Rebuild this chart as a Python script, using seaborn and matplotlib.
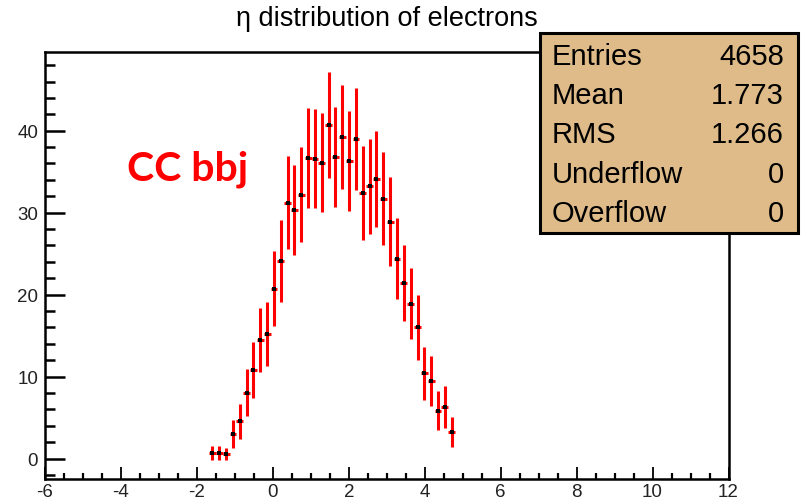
import matplotlib
matplotlib.use("Agg")
import matplotlib.pyplot as plt
import seaborn as sns
import pandas as pd
from matplotlib.patches import Rectangle
from matplotlib.ticker import MultipleLocator

# ---- data (bin width 0.18) ----
eta_centers = [-1.59, -1.41, -1.23, -1.05, -0.87, -0.69, -0.51, -0.33, -0.15, 0.03,
               0.21, 0.39, 0.57, 0.75, 0.93, 1.11, 1.29, 1.47, 1.65, 1.83,
               2.01, 2.19, 2.37, 2.55, 2.73, 2.91, 3.09, 3.27, 3.45, 3.63,
               3.81, 3.99, 4.17, 4.35, 4.53, 4.71]
counts = [0.67, 0.67, 0.51, 2.99, 4.54, 8.0, 10.8, 14.5, 15.2, 20.7,
          24.1, 31.2, 30.3, 32.2, 36.7, 36.6, 36.1, 40.7, 36.8, 39.2,
          36.3, 39.0, 32.4, 33.2, 34.1, 31.7, 28.9, 24.4, 21.4, 18.9,
          16.0, 10.4, 9.46, 5.84, 6.33, 3.2]
errors = [0.87, 0.87, 0.75, 1.75, 2.16, 2.87, 3.38, 3.9, 3.9, 4.58,
          5.03, 5.66, 5.5, 5.76, 6.08, 6.08, 6.07, 6.43, 6.13, 6.33,
          6.07, 6.25, 5.76, 5.82, 5.88, 5.7, 5.45, 4.92, 4.68, 4.36,
          3.99, 3.24, 3.09, 2.42, 2.56, 1.81]
half_bin = 0.09
stat_names = ["Entries", "Mean", "RMS", "Underflow", "Overflow"]
stat_values = ["4658", "1.773", "1.266", "0", "0"]
title = "\u03b7 distribution of electrons"
label = "CC bbj"

sns.set_theme(style="ticks")
plt.rcParams["font.family"] = ["Liberation Sans", "DejaVu Sans"]
plt.rcParams["axes.unicode_minus"] = False

W, H = 801, 502
fig = plt.figure(figsize=(W / 100, H / 100), dpi=100)
fig.patch.set_facecolor("white")


def fx(px):
    return px / W


def fy(py):
    return 1 - py / H


ax = fig.add_axes([fx(45), fy(480), fx(728.5) - fx(45), fy(53) - fy(480)])
ax.set_facecolor("white")

df = pd.DataFrame({"eta": eta_centers, "count": counts, "err": errors})
ax.errorbar(df["eta"], df["count"], yerr=df["err"], xerr=half_bin, fmt="none",
            ecolor="#ff0000", elinewidth=2.2, capsize=0, zorder=2)
sns.scatterplot(data=df, x="eta", y="count", marker="s", s=7, color="black",
                linewidth=0, ax=ax, zorder=3)
ax.set_xlabel("")
ax.set_ylabel("")
ax.set_xlim(-6, 12)
ax.set_ylim(-2.5, 49.6)

ax.xaxis.set_major_locator(MultipleLocator(2))
ax.xaxis.set_minor_locator(MultipleLocator(0.5))
ax.yaxis.set_major_locator(MultipleLocator(10))
ax.yaxis.set_minor_locator(MultipleLocator(2))
ax.tick_params(axis="x", which="major", direction="in", length=8.6, width=1.3,
               color="black", labelsize=13.5, pad=3, top=False)
ax.tick_params(axis="x", which="minor", direction="in", length=4, width=1.6,
               color="black", top=False)
ax.tick_params(axis="y", which="major", direction="in", length=14.5, width=1.8,
               color="black", labelsize=13.5, pad=5, right=False)
ax.tick_params(axis="y", which="minor", direction="in", length=7.2, width=1.8,
               color="black", right=False)
for lab in ax.get_xticklabels() + ax.get_yticklabels():
    lab.set_color("#222222")
for s in ax.spines.values():
    s.set_visible(True)
    s.set_color("black")
    s.set_linewidth(1.8)

# title
fig.text(fx(386.5), fy(19), title, ha="center", va="center", fontsize=19.5,
         color="black")

# label
fig.text(fx(127), fy(180), label, ha="left", va="baseline", fontsize=29.5,
         fontweight="bold", color="#ff0000", family=["Lato", "DejaVu Sans"])

# stats box
box = Rectangle((fx(540), fy(234)), fx(798) - fx(540), fy(34) - fy(234),
                transform=fig.transFigure, facecolor="#debb88",
                edgecolor="black", linewidth=2.2, zorder=10)
fig.add_artist(box)
ys = [57, 96, 135, 175, 214]
for name, val, y in zip(stat_names, stat_values, ys):
    fig.text(fx(552), fy(y), name, ha="left", va="center", fontsize=21,
             color="black", zorder=11)
    fig.text(fx(784), fy(y), val, ha="right", va="center", fontsize=21,
             color="black", zorder=11)

fig.savefig("out.png", dpi=100)
